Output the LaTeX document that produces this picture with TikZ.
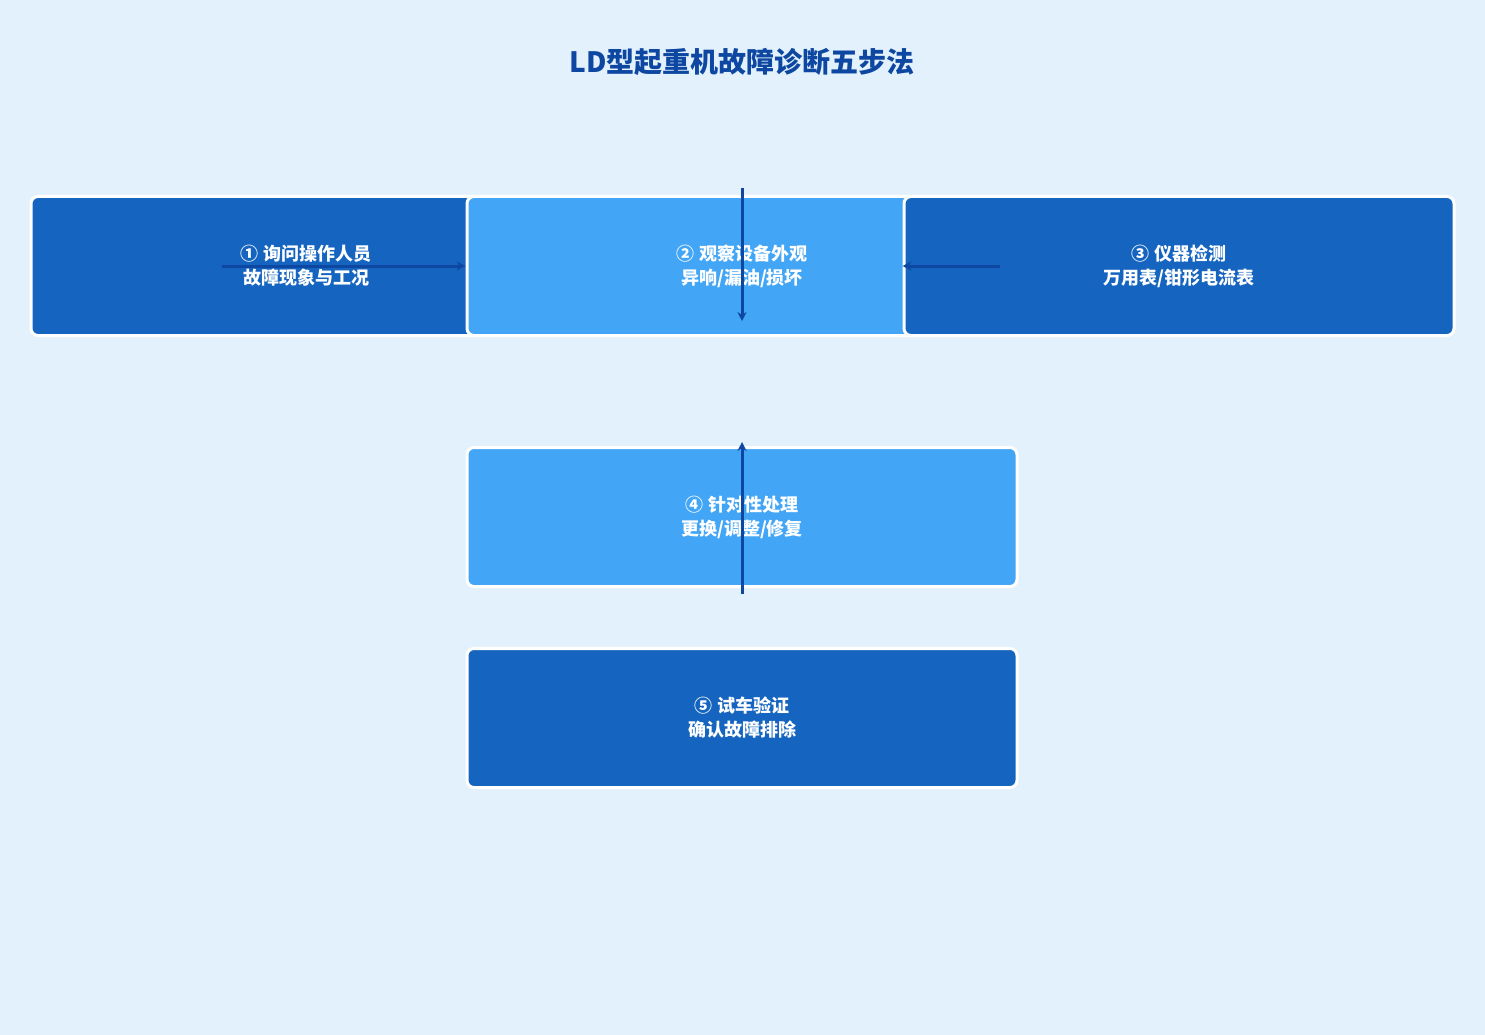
\documentclass[tikz,border=0pt]{standalone}
\usepackage{fontspec}
\setmainfont{Noto Sans CJK SC}
\usetikzlibrary{positioning,arrows.meta}
\definecolor{bgblue}{HTML}{E3F1FC}
\definecolor{darkstep}{HTML}{1565C0}
\definecolor{lightstep}{HTML}{42A5F5}
\definecolor{navy}{HTML}{0D47A1}
\tikzset{
    x=1pt,
    y=-1pt,
    stepbox/.style = {
        draw=white,
        shape=rectangle,
        rounded corners=7pt,
        line width=3pt,
        minimum width=550pt,
        minimum height=139pt,
        text=white,
        align=center,
        font=\fontsize{18}{24}\selectfont\bfseries
    },
    darkbox/.style = {stepbox, fill=darkstep},
    lightbox/.style = {stepbox, fill=lightstep},
    flow/.style = {draw=navy, line width=3pt, -{Stealth[length=9pt,width=9pt]}},
}
\begin{document}
\begin{tikzpicture}
    \fill[bgblue] (0,0) rectangle (1485,1035);
    \useasboundingbox (0,0) rectangle (1485,1035);
    \node[font=\fontsize{28}{32}\selectfont\bfseries, text=navy] (title) at (742,62) {LD型起重机故障诊断五步法};

    \node[darkbox] (ask) at (306,266) {① 询问操作人员\\故障现象与工况};
    \node[lightbox] (look) at (742,266) {② 观察设备外观\\异响/漏油/损坏};
    \node[darkbox] (meter) at (1179,266) {③ 仪器检测\\万用表/钳形电流表};
    \node[lightbox] (fix) at (742,517) {④ 针对性处理\\更换/调整/修复};
    \node[darkbox] (test) at (742,718) {⑤ 试车验证\\确认故障排除};

    \coordinate (a1) at (222,266);
    \coordinate (a2) at (1000,266);
    \coordinate (a3) at (742,188);
    \coordinate (a4) at (742,594);
    \path[flow] (a1) -- (look.west);
    \path[flow] (a2) -- (meter.west);
    \path[flow] (a3) -- ([yshift=16pt]look.south);
    \path[flow] (a4) -- ([yshift=4pt]fix.north);
\end{tikzpicture}
\end{document}
